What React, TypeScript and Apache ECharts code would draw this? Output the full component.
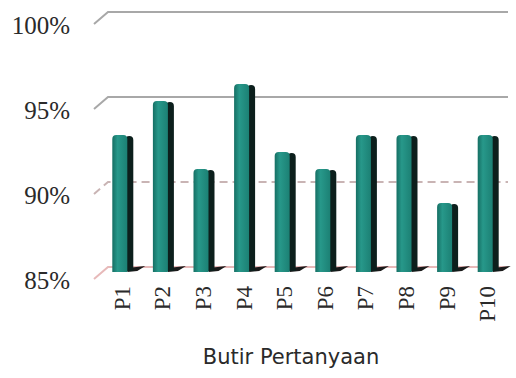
import React, { useEffect, useRef } from "react";
import * as echarts from "echarts";

const categories = ["P1", "P2", "P3", "P4", "P5", "P6", "P7", "P8", "P9", "P10"];
const values = [93, 95, 91, 96, 92, 91, 93, 93, 89, 93];
const tickValues = [85, 90, 95, 100];
const axisTitle = "Butir Pertanyaan";

export default function App() {
  const ref = useRef<HTMLDivElement>(null);
  useEffect(() => {
    if (!ref.current) return;
    document.body.style.margin = "0";
    const chart = echarts.init(ref.current, null, { renderer: "svg" });
    const serif = "'Liberation Serif', 'DejaVu Serif', serif";
    const option: any = {
      animation: false,
      backgroundColor: "#ffffff",
      grid: [
        { left: 102, right: 8, top: 16, height: 255 },
        { left: 108, right: 8, top: 12, height: 255 },
      ],
      xAxis: [
        {
          type: "category",
          gridIndex: 0,
          data: categories,
          axisLine: { show: false },
          axisTick: { show: false },
          axisLabel: {
            rotate: 90,
            margin: 15,
            fontFamily: serif,
            fontSize: 23,
            color: "#2a2a2a",
          },
        },
        { type: "value", gridIndex: 1, min: 0, max: 1, show: false },
      ],
      yAxis: [
        {
          type: "value",
          gridIndex: 0,
          min: 85,
          max: 100,
          interval: 5,
          axisLine: { show: false },
          axisTick: { show: false },
          splitLine: { show: false },
          axisLabel: {
            formatter: "{value}%",
            margin: 32,
            fontFamily: serif,
            fontSize: 25,
            color: "#2a2a2a",
            verticalAlign: "top",
            lineHeight: 19,
          },
        },
        {
          type: "value",
          gridIndex: 1,
          min: 85,
          max: 100,
          interval: 5,
          show: false,
        },
      ],
      series: [
        {
          type: "custom",
          xAxisIndex: 1,
          yAxisIndex: 1,
          data: tickValues.map((v) => [0, v]),
          z: 1,
          renderItem: (params: any, api: any) => {
            const v = api.value(1);
            const p = api.coord([0, v]);
            const cs = params.coordSys;
            const y = p[1];
            const x0 = cs.x;
            const x1 = cs.x + cs.width;
            let stroke = "#a8a8a8";
            let dash: any = null;
            if (v === 90) {
              stroke = "#c9b4b4";
              dash = [8, 5];
            }
            if (v === 85) stroke = "#e7b9b9";
            return {
              type: "group",
              children: [
                {
                  type: "polyline",
                  shape: { points: [[x0 - 14, y + 12], [x0, y], [x1, y]] },
                  style: { stroke, lineWidth: 2, fill: null, lineDash: dash },
                },
              ],
            };
          },
        },
        {
          type: "custom",
          xAxisIndex: 0,
          yAxisIndex: 0,
          data: values.map((v, i) => [i, v]),
          z: 5,
          renderItem: (params: any, api: any) => {
            const idx = api.value(0);
            const top = api.coord([idx, api.value(1)]);
            const base = api.coord([idx, 85]);
            const cx = top[0];
            const ty = top[1];
            const by = base[1];
            const fl = cx - 10;
            const fr = cx + 5;
            const sr = cx + 11;
            return {
              type: "group",
              children: [
                {
                  type: "polygon",
                  shape: {
                    points: [
                      [fr, by - 3],
                      [sr + 12, by - 5],
                      [sr + 4, by],
                      [fr, by + 1],
                    ],
                  },
                  style: { fill: "#1a1a1a" },
                },
                {
                  type: "rect",
                  shape: { x: fr - 2, y: ty + 1, width: sr - fr + 2, height: by - ty - 1, r: [4, 4, 0, 0] },
                  style: { fill: "#0c1f1c" },
                },
                {
                  type: "rect",
                  shape: { x: fl, y: ty, width: fr - fl, height: by - ty + 1, r: [4, 4, 0, 0] },
                  style: {
                    fill: new echarts.graphic.LinearGradient(0, 0, 1, 0, [
                      { offset: 0, color: "#166f64" },
                      { offset: 0.35, color: "#27988a" },
                      { offset: 1, color: "#1c8074" },
                    ]),
                  },
                },
              ],
            };
          },
        },
      ],
      graphic: [
        {
          type: "text",
          x: 291,
          y: 357,
          style: {
            text: axisTitle,
            fontFamily: "'DejaVu Sans', sans-serif",
            fontSize: 21,
            fill: "#2a2a2a",
            textAlign: "center",
            textVerticalAlign: "middle",
          },
        },
      ],
    };
    chart.setOption(option);
    return () => chart.dispose();
  }, []);
  return <div ref={ref} style={{ width: 516, height: 378 }} />;
}
